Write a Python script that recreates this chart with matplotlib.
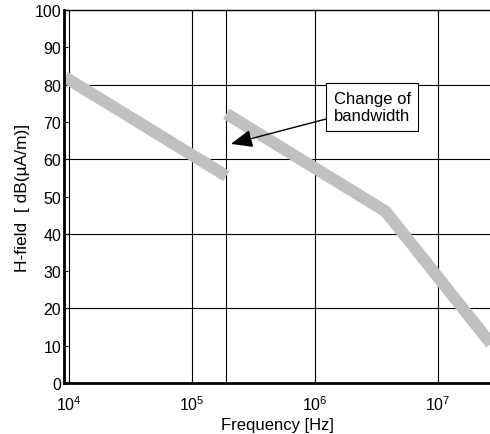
import numpy as np
import matplotlib
matplotlib.use('Agg')
import matplotlib.pyplot as plt

plt.rcParams['font.family'] = ['Liberation Sans', 'DejaVu Sans']

# segmento 1 (antes del cambio de ancho de banda)
freq1 = [9.2e3, 1.9e5]
h1 = [82.0, 55.5]
# segmento 2 (despues del cambio)
freq2 = [1.9e5, 3.77e6, 2.8e7]
h2 = [72.2, 46.0, 10.0]

x_grid = [1e4, 1e5, 1.9e5, 1e6, 1e7]
y_grid = [20, 40, 60, 80]
y_ticks = np.arange(0, 101, 10)

fig = plt.figure(figsize=(4.9, 4.35), dpi=100)
ax = fig.add_axes([0.1306, 0.1172, 0.8694, 0.8575])

for xg in x_grid:
    ax.axvline(xg, color='black', lw=0.8, zorder=1)
for yg in y_grid:
    ax.axhline(yg, color='black', lw=0.8, zorder=1)

ax.plot(freq1, h1, color='#c0c0c0', lw=8.6, solid_capstyle='butt', zorder=2)
ax.plot(freq2, h2, color='#c0c0c0', lw=8.6, solid_capstyle='butt',
        solid_joinstyle='miter', zorder=2)

ax.set_xscale('log')
ax.set_xlim(9.05e3, 2.67e7)
ax.set_ylim(0, 100)
ax.set_yticks(y_ticks)
ax.set_xticks([1e4, 1e5, 1e6, 1e7])
ax.minorticks_off()
ax.tick_params(direction='in', length=3, labelsize=11.5, top=True)
ax.tick_params(axis='y', pad=2)
ax.tick_params(axis='x', pad=8)
ax.spines['right'].set_visible(False)
ax.spines['left'].set_linewidth(2)
ax.spines['bottom'].set_linewidth(2)
ax.spines['top'].set_linewidth(1)

ax.annotate('Change of\nbandwidth', xy=(2.07e5, 64.1), xytext=(1.42e6, 74),
            fontsize=12, ha='left', va='center', multialignment='left',
            bbox=dict(boxstyle='square,pad=0.45', fc='white', ec='black', lw=0.8),
            arrowprops=dict(arrowstyle='-|>,head_length=1.1,head_width=0.45',
                            color='black', lw=1, shrinkA=0, shrinkB=0),
            zorder=5)

ax.set_xlabel('Frequency [Hz]', fontsize=12, labelpad=3)
ax.set_ylabel('H-field  [ dB(\u00b5A/m)]', fontsize=12.5, labelpad=3)

fig.savefig('out.png', dpi=100)
